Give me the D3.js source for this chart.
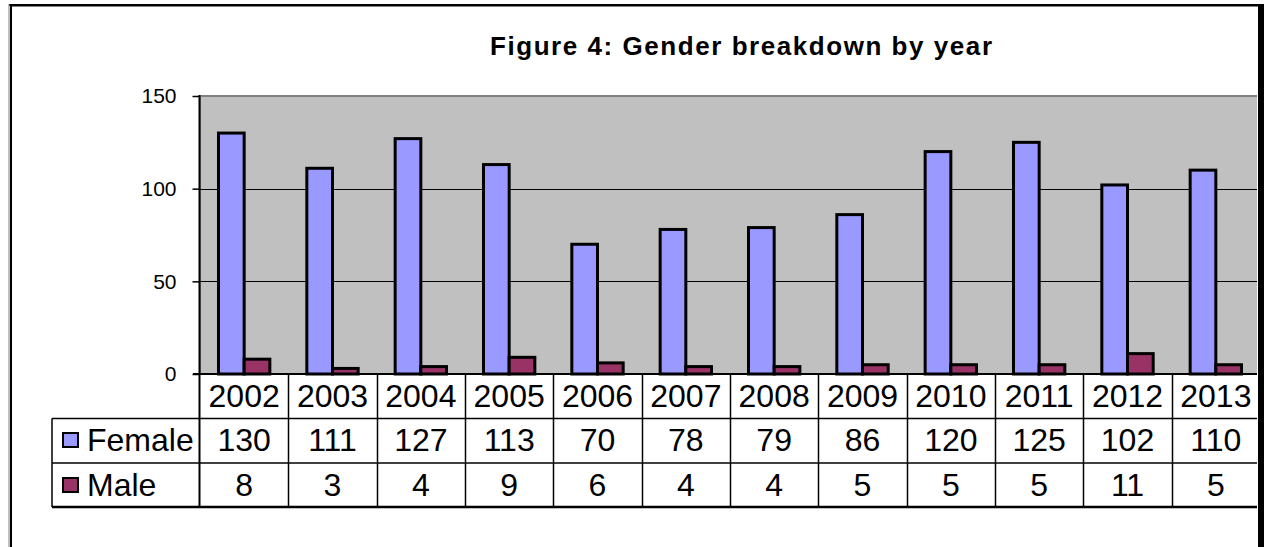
<!DOCTYPE html>
<html>
<head>
<meta charset="utf-8">
<script src="https://cdn.jsdelivr.net/npm/d3@7"></script>
<style>
body { margin: 0; background: #fff; }
text { font-family: "Liberation Sans", Arial, sans-serif; fill: #000; }
</style>
</head>
<body>
<div id="chart_container"></div>
<script>
var years = ["2002","2003","2004","2005","2006","2007","2008","2009","2010","2011","2012","2013"]
var series = ["Female", "Male"]
var female = [130,111,127,113,70,78,79,86,120,125,102,110]
var male = [8,3,4,9,6,4,4,5,5,5,11,5]
var y_ticks = [0,50,100,150]
var colors = {"Female": "#9999FF", "Male": "#993366"}

var w = 1264, h = 547
var p_left = 200, p_right = 1260, p_top = 96, p_bottom = 374
var row_h = [374, 418.5, 463, 507]
var legend_left = 52
var t_size = "32px"

var svg = d3.select("#chart_container")
    .append("svg")
        .attr("width", w)
        .attr("height", h)

var x = d3.scaleBand().domain(years).range([p_left, p_right])
var xs = d3.scaleBand().domain(series).range([0, x.bandwidth()]).paddingOuter(0.72)
var y = d3.scaleLinear().domain([0,150]).range([p_bottom, p_top])

var clip = svg.append("clipPath").attr("id", "clip")
clip.append("rect").attr("x", 0).attr("y", 0).attr("width", 1257).attr("height", h)

var g = svg.append("g").attr("clip-path", "url(#clip)")

// plot area
g.append("rect")
    .attr("x", p_left)
    .attr("y", p_top)
    .attr("width", p_right - p_left)
    .attr("height", p_bottom - p_top)
    .style("fill", "#C0C0C0")
    .style("stroke", "#808080")
    .style("stroke-width", 2)

g.selectAll(".grid").data(y_ticks.filter(function(d){ return d > 0 && d < 150 }))
    .enter().append("line")
    .attr("class", "grid")
    .attr("x1", p_left).attr("x2", p_right)
    .attr("y1", function(d){ return Math.round(y(d)) + 0.5 })
    .attr("y2", function(d){ return Math.round(y(d)) + 0.5 })
    .style("stroke", "#000")
    .style("stroke-width", 1)

var rows = years.map(function(yr, i){ return {year: yr, Female: female[i], Male: male[i]} })

var groups = g.selectAll(".year_g").data(rows)
    .enter().append("g")
    .attr("class", "year_g")
    .attr("transform", function(d){ return "translate(" + x(d.year) + ",0)" })

groups.selectAll("rect")
    .data(function(d){ return series.map(function(s){ return {key: s, value: d[s]} }) })
    .enter().append("rect")
    .attr("x", function(d){ return xs(d.key) })
    .attr("y", function(d){ return y(d.value) })
    .attr("width", xs.bandwidth())
    .attr("height", function(d){ return y(0) - y(d.value) })
    .style("fill", function(d){ return colors[d.key] })
    .style("stroke", "#000")
    .style("stroke-width", 3)

// y axis
var yAxis = d3.axisLeft(y).tickValues(y_ticks).tickSize(7).tickPadding(16)
var ya = svg.append("g")
    .attr("transform", "translate(" + (p_left - 0.5) + ",0)")
    .call(yAxis)
ya.select(".domain").remove()
ya.selectAll("line").style("stroke", "#000").style("stroke-width", 1.5)
ya.selectAll("text")
    .style("font-size", "21px")
    .style("font-family", "'Liberation Sans', Arial, sans-serif")
svg.append("line")
    .attr("x1", p_left - 0.5).attr("x2", p_left - 0.5)
    .attr("y1", p_top - 1).attr("y2", row_h[3])
    .style("stroke", "#000").style("stroke-width", 2)

// table
var tg = g.append("g")
tg.append("line")
    .attr("x1", 193).attr("x2", p_right)
    .attr("y1", p_bottom).attr("y2", p_bottom)
    .style("stroke", "#000").style("stroke-width", 2)
tg.selectAll(".hline").data([row_h[1], row_h[2]])
    .enter().append("line")
    .attr("x1", legend_left).attr("x2", p_right)
    .attr("y1", function(d){ return d }).attr("y2", function(d){ return d })
    .style("stroke", "#000").style("stroke-width", 1.5)
tg.append("line")
    .attr("x1", legend_left).attr("x2", p_right)
    .attr("y1", row_h[3]).attr("y2", row_h[3])
    .style("stroke", "#000").style("stroke-width", 2.5)
tg.append("line")
    .attr("x1", legend_left).attr("x2", legend_left)
    .attr("y1", row_h[1]).attr("y2", row_h[3])
    .style("stroke", "#000").style("stroke-width", 1.5)
tg.selectAll(".vline").data(years.slice(1))
    .enter().append("line")
    .attr("x1", function(d){ return Math.round(x(d)) + 0.5 })
    .attr("x2", function(d){ return Math.round(x(d)) + 0.5 })
    .attr("y1", p_bottom).attr("y2", row_h[3])
    .style("stroke", "#000").style("stroke-width", 1.5)

tg.selectAll(".yr").data(years)
    .enter().append("text")
    .attr("x", function(d){ return x(d) + x.bandwidth()/2 })
    .attr("y", 407)
    .attr("text-anchor", "middle")
    .style("font-size", t_size)
    .text(function(d){ return d })

tg.selectAll(".fv").data(female)
    .enter().append("text")
    .attr("x", function(d,i){ return x(years[i]) + x.bandwidth()/2 })
    .attr("y", 451)
    .attr("text-anchor", "middle")
    .style("font-size", t_size)
    .text(function(d){ return d })

tg.selectAll(".mv").data(male)
    .enter().append("text")
    .attr("x", function(d,i){ return x(years[i]) + x.bandwidth()/2 })
    .attr("y", 496)
    .attr("text-anchor", "middle")
    .style("font-size", t_size)
    .text(function(d){ return d })

// legend keys
var leg = svg.selectAll(".leg").data(series)
    .enter().append("g")
    .attr("transform", function(d,i){ return "translate(0," + [0, 45][i] + ")" })
leg.append("rect")
    .attr("x", 63).attr("y", 433)
    .attr("width", 15).attr("height", 14)
    .style("fill", function(d){ return colors[d] })
    .style("stroke", "#000").style("stroke-width", 2)
leg.append("text")
    .attr("x", 87)
    .attr("y", 451)
    .style("font-size", t_size)
    .text(function(d){ return d })

// title
svg.append("text")
    .attr("x", 490)
    .attr("y", 55)
    .attr("textLength", 502)
    .attr("lengthAdjust", "spacing")
    .style("font-size", "26px")
    .style("font-weight", "bold")
    .text("Figure 4: Gender breakdown by year")

// outer border
svg.append("line").attr("x1", 9).attr("x2", 1260).attr("y1", 5).attr("y2", 5)
    .style("stroke", "#000").style("stroke-width", 2)
svg.append("line").attr("x1", 10).attr("x2", 1258).attr("y1", 6.5).attr("y2", 6.5)
    .style("stroke", "#808080").style("stroke-width", 1)
svg.append("line").attr("x1", 9).attr("x2", 9).attr("y1", 4).attr("y2", h)
    .style("stroke", "#808080").style("stroke-width", 1)
svg.append("line").attr("x1", 11).attr("x2", 11).attr("y1", 5).attr("y2", h)
    .style("stroke", "#000").style("stroke-width", 2)
svg.append("rect").attr("x", 1258).attr("y", 4).attr("width", 6).attr("height", h)
    .style("fill", "#000")
</script>
</body>
</html>
